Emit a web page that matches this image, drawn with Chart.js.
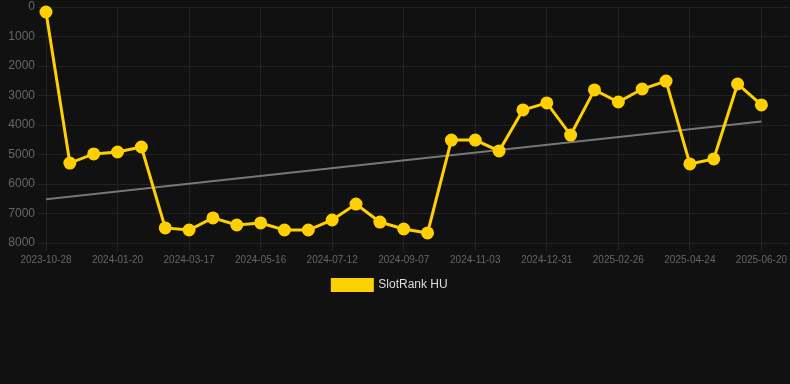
<!DOCTYPE html>
<html lang="en">
    <head>
        <meta charset="utf-8">
        <title>SlotRank HU</title>
        <script type="text/javascript" src="https://cdn.jsdelivr.net/npm/chart.js@4/dist/chart.umd.min.js"></script>
        <style>
            html, body { margin: 0; padding: 0; background: #111111; }
            #wrap { width: 790px; height: 301px; }
        </style>
    </head>
    <body>
        <div id="wrap">
            <canvas id="chartRank"></canvas>
        </div>

        <script type="text/javascript">

        // dates (one per point, only every 3rd one is shown on the axis)
        const dates = [
            '2023-10-28', '2023-11-25', '2023-12-23', '2024-01-20', '2024-02-08', '2024-02-27',
            '2024-03-17', '2024-04-06', '2024-04-26', '2024-05-16', '2024-06-04', '2024-06-23',
            '2024-07-12', '2024-07-31', '2024-08-19', '2024-09-07', '2024-09-26', '2024-10-15',
            '2024-11-03', '2024-11-22', '2024-12-12', '2024-12-31', '2025-01-19', '2025-02-07',
            '2025-02-26', '2025-03-17', '2025-04-05', '2025-04-24', '2025-05-13', '2025-06-01',
            '2025-06-20'
        ];

        // rank values
        const rankHU = [
            170, 5290, 4980, 4915, 4745, 7490, 7560, 7150, 7390, 7320, 7560,
            7560, 7220, 6680, 7290, 7525, 7660, 4510, 4510, 4880, 3490, 3250,
            4340, 2810, 3220, 2780, 2510, 5320, 5150, 2610, 3320
        ];

        const yTicks = [0, 1000, 2000, 3000, 4000, 5000, 6000, 7000, 8000];

        /// trend = least squares line over the rank series
        function trendOf(values) {
            const n = values.length;
            let sx = 0, sy = 0, sxy = 0, sxx = 0;
            for (let i = 0; i < n; i++) {
                sx += i; sy += values[i]; sxy += i * values[i]; sxx += i * i;
            }
            const slope = (n * sxy - sx * sy) / (n * sxx - sx * sx);
            const icpt = (sy - slope * sx) / n;
            return [{x: 0, y: icpt}, {x: n - 1, y: icpt + slope * (n - 1)}];
        }

        const points = rankHU.map(function (v, i) { return {x: i, y: v}; });

        // legend sits a bit left of the canvas centre in the original
        const legendShift = {
            id: 'legendShift',
            afterLayout: function (chart) {
                chart.legend.left = 0;
                chart.legend.right = 780;
            }
        };

        Chart.defaults.font.family = 'Arial, "Liberation Sans", sans-serif';

        const ctx = document.getElementById('chartRank').getContext('2d');
        const myChart = new Chart(ctx, {
            type: 'line',
            data: {
                datasets: [{
                    label: 'SlotRank HU',
                    data: points,
                    borderColor: '#FFD000',
                    backgroundColor: '#FFD000',
                    borderWidth: 3,
                    pointRadius: 5,
                    pointHoverRadius: 6,
                    tension: 0,
                    clip: false,
                    order: 1
                }, {
                    label: 'trend',
                    data: trendOf(rankHU),
                    borderColor: '#777777',
                    borderWidth: 2,
                    pointRadius: 0,
                    order: 2
                }]
            },
            options: {
                responsive: true,
                maintainAspectRatio: false,
                animation: false,
                layout: { autoPadding: false, padding: 0 },
                scales: {
                    x: {
                        type: 'linear',
                        min: 0,
                        max: 31.17,
                        grid: { color: '#222222' },
                        border: { display: false },
                        afterBuildTicks: function (scale) {
                            scale.ticks = [];
                            for (let i = 0; i < dates.length; i += 3) scale.ticks.push({value: i});
                        },
                        ticks: {
                            autoSkip: false,
                            maxRotation: 0,
                            color: '#666666',
                            font: { size: 10 },
                            callback: function (v) { return dates[v]; }
                        }
                    },
                    y: {
                        reverse: true,
                        min: yTicks[0],
                        max: yTicks[yTicks.length - 1],
                        grid: { color: '#222222' },
                        border: { display: false },
                        afterFit: function (scale) {
                            scale.width = 46;
                            scale.paddingTop = 7;
                        },
                        afterBuildTicks: function (scale) {
                            scale.ticks = yTicks.map(function (v) { return {value: v}; });
                        },
                        ticks: {
                            color: '#666666',
                            font: { size: 12 },
                            callback: function (v) { return String(v); }
                        }
                    }
                },
                plugins: {
                    legend: {
                        position: 'bottom',
                        labels: {
                            color: '#dddddd',
                            font: { size: 12 },
                            boxWidth: 40,
                            boxHeight: 11,
                            filter: function (item) { return item.text !== 'trend'; }
                        }
                    },
                    tooltip: { enabled: false }
                }
            },
            plugins: [legendShift]
        });
        </script>
    </body>
</html>
